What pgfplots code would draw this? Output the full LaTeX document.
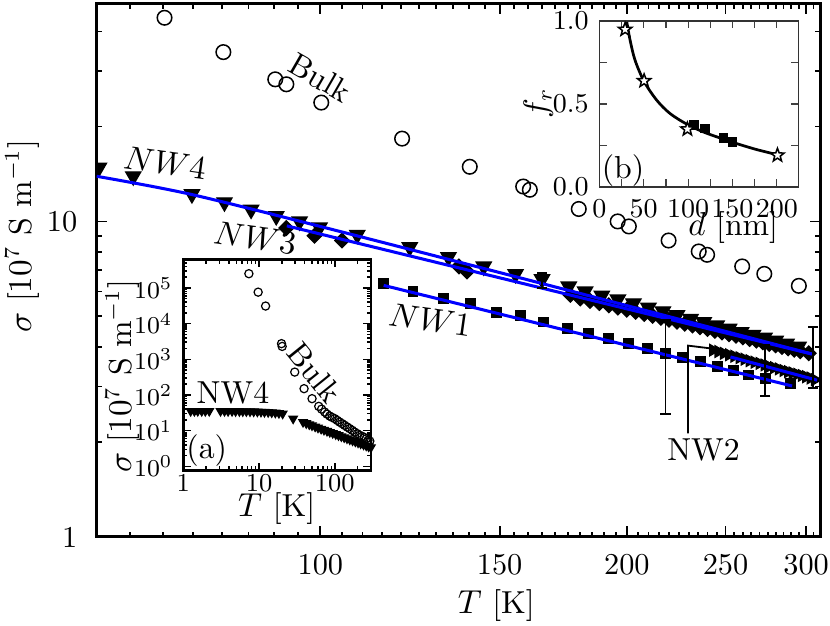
\documentclass[border=0pt]{standalone}
\usepackage{pgfplots}
\pgfplotsset{compat=1.18}
\pgfdeclareplotmark{fstar}{%
  \pgfpathmoveto{\pgfpointpolar{90}{\pgfplotmarksize}}%
  \pgfpathlineto{\pgfpointpolar{126}{0.42\pgfplotmarksize}}%
  \pgfpathlineto{\pgfpointpolar{162}{\pgfplotmarksize}}%
  \pgfpathlineto{\pgfpointpolar{198}{0.42\pgfplotmarksize}}%
  \pgfpathlineto{\pgfpointpolar{234}{\pgfplotmarksize}}%
  \pgfpathlineto{\pgfpointpolar{270}{0.42\pgfplotmarksize}}%
  \pgfpathlineto{\pgfpointpolar{306}{\pgfplotmarksize}}%
  \pgfpathlineto{\pgfpointpolar{342}{0.42\pgfplotmarksize}}%
  \pgfpathlineto{\pgfpointpolar{18}{\pgfplotmarksize}}%
  \pgfpathlineto{\pgfpointpolar{54}{0.42\pgfplotmarksize}}%
  \pgfpathclose
  \pgfusepathqfillstroke
}
\begin{document}
\begin{tikzpicture}
\begin{axis}[
  name=main, at={(0pt,0pt)}, anchor=south west,
  scale only axis, width=238.9pt, height=176pt,
  xmode=log, ymode=log,
  xmin=60.3, xmax=310, ymin=1, ymax=49,
  xtick={100,150,200,250,300}, xticklabels={100,150,200,250,300},
  minor xtick={65,70,75,80,85,90,95,105,110,115,120,125,130,135,140,145,155,160,165,170,175,180,185,190,195,205,210,215,220,225,230,235,240,245,255,260,265,270,275,280,285,290,295,305},
  ytick={1,10}, yticklabels={1,10},
  minor ytick={2,3,4,5,6,7,8,9,20,30,40},
  tick align=inside, major tick length=3.5pt, minor tick length=1.8pt,
  tick style={black, line width=0.6pt},
  axis line style={line width=1pt},
  tick label style={font=\fontsize{10}{12}\selectfont},
  xticklabel style={yshift=-2.2pt}, yticklabel style={xshift=-2.9pt},
  xlabel={$T$ [K]}, ylabel={$\sigma$ [$10^7$ S m$^{-1}$]},
  label style={font=\fontsize{10.5}{12.6}\selectfont},
  xlabel style={at={(axis description cs:0.552,-0.128)}, anchor=center},
  ylabel style={at={(axis description cs:-0.103,0.564)}, anchor=center},
  clip marker paths=true,
]
% Bulk
\addplot[only marks, mark=o, mark size=2.4pt, mark options={black, line width=0.5pt}] coordinates {
(70.3,44.2) (80.3,34.4) (90.3,28.2) (92.6,27.2) (100.2,23.8) (120.3,18.3) (140.2,14.9) (158.2,12.9) (160.6,12.6) (179.4,10.95) (195.9,10.0) (200.9,9.64) (219.8,8.7) (235.3,8.03) (239.8,7.84) (259.6,7.2) (272.9,6.82) (295.1,6.25)};
% NW4
\addplot[only marks, mark=triangle*, mark size=2.9pt, mark options={black, fill=black, rotate=180}] coordinates {
(60.6,14.8) (65.5,13.9) (74.8,12.2) (80.5,11.5) (85.5,10.9) (90.5,10.4) (95.4,10.0) (99.8,9.57) (108.7,9.07) (122.4,8.29) (133.6,7.71) (144.7,7.20) (155.5,6.81) (165.1,6.56) (175.4,6.22) (182,6.00) (189,5.82) (196,5.66) (203,5.50) (210,5.33) (217,5.19) (224,5.05) (231,4.91) (238,4.80) (245,4.68) (252,4.57) (259,4.46) (266,4.37) (273,4.28) (280,4.19) (287,4.10) (294.9,4.01)};
% NW3
\addplot[only marks, mark=square*, mark size=1.7pt, mark options={black, fill=black, rotate=45}] coordinates {
(92.6,9.53) (98.7,9.01) (105.0,8.70) (136.8,7.20) (139.3,6.94) (176,5.85) (180,5.70) (184,5.60) (188,5.51) (192,5.42) (196,5.33) (200,5.25) (204,5.17) (208,5.09) (212,5.02) (216,4.95) (220,4.88) (224,4.81) (228,4.74) (232,4.68) (236,4.62) (240,4.56) (244,4.50) (248,4.45) (252,4.39) (256,4.34) (260,4.29) (264,4.24) (268,4.19) (272,4.14) (276,4.09) (280,4.05) (284,4.00) (288,3.96) (292,3.92) (296,3.88) (301.8,3.82)};
% NW1
\addplot[only marks, mark=square*, mark size=1.6pt, mark options={black, fill=black}] coordinates {
(115.4,6.34) (123.3,6.00) (132.0,5.71) (140.4,5.48) (148.9,5.16) (157.4,5.02) (165.7,4.80) (174.7,4.59) (183.5,4.42) (191.9,4.26) (200.9,4.11) (209.4,3.96) (218.3,3.82) (226.6,3.71) (236.3,3.59) (245.3,3.48) (254.7,3.37) (263.5,3.26) (273.5,3.18) (289.5,3.07)};
% NW2
\addplot[only marks, mark=triangle*, mark size=2.2pt, mark options={black, fill=black, rotate=-90}] coordinates {
(243,3.91) (246,3.87) (249,3.82) (252,3.78) (255,3.74) (258,3.70) (261,3.66) (264,3.62) (267,3.58) (270,3.55) (273,3.51) (276,3.47) (279,3.44) (282,3.41) (285,3.37) (288,3.34) (291,3.31) (294,3.28) (297,3.25) (300,3.22) (303,3.19) (306,3.15)};
% fits
\addplot[blue, line width=1pt, no marks, smooth] coordinates {(60.3,13.9) (74.5,12.2) (102.3,9.46) (173.4,6.1) (304,3.80)};
\addplot[blue, line width=1pt, no marks] coordinates {(92.7,9.68) (304,3.80)};
\addplot[blue, line width=1pt, no marks] coordinates {(115.4,6.27) (290.6,3.01)};
\addplot[blue, line width=1pt, no marks] coordinates {(252.8,3.72) (307.5,3.14)};
% error bars
\addplot[black, line width=0.6pt, mark=-, mark size=1.7pt] coordinates {(165.1,6.15) (165.1,6.88)};
\addplot[black, line width=0.6pt, mark=-, mark size=1.7pt] coordinates {(218.3,2.46) (218.3,4.88)};
\addplot[black, line width=0.6pt, mark=-, mark size=1.7pt] coordinates {(273.5,2.80) (273.5,4.06)};
\addplot[black, line width=0.6pt, mark=-, mark size=1.7pt] coordinates {(304.5,2.96) (304.5,4.64)};
% annotations
\draw[line width=0.6pt] (axis cs:229.7,2.13) -- (axis cs:229.7,4.04) -- (axis cs:243.2,3.95);
\node[font=\fontsize{10.5}{12.6}\selectfont, rotate=-30] at (axis cs:100,28.5) {Bulk};
\node[font=\fontsize{10.5}{12.6}\selectfont, rotate=-8] at (axis cs:70.4,15.3) {$NW4$};
\node[font=\fontsize{10.5}{12.6}\selectfont, rotate=-8] at (axis cs:86.3,8.86) {$NW3$};
\node[font=\fontsize{10.5}{12.6}\selectfont, rotate=-8] at (axis cs:128.2,4.88) {$NW1$};
\node[font=\fontsize{10.5}{12.6}\selectfont] at (axis cs:237.9,1.88) {NW2};
\end{axis}

% inset (a)
\begin{axis}[
  at={(28.6pt,22pt)}, anchor=south west,
  scale only axis, width=61.9pt, height=69.5pt,
  xmode=log, ymode=log,
  xmin=1, xmax=300, ymin=0.773, ymax=6.17e5,
  axis background/.style={fill=white},
  xtick={1,10,100}, xticklabels={1,10,100},
  minor xtick={2,3,4,5,6,7,8,9,20,30,40,50,60,70,80,90,200,300},
  ytick={1,1e1,1e2,1e3,1e4,1e5},
  yticklabels={$10^{0}$,$10^{1}$,$10^{2}$,$10^{3}$,$10^{4}$,$10^{5}$},
  minor ytick={2,3,4,5,6,7,8,9,20,30,40,50,60,70,80,90,200,300,400,500,600,700,800,900,2e3,3e3,4e3,5e3,6e3,7e3,8e3,9e3,2e4,3e4,4e4,5e4,6e4,7e4,8e4,9e4,2e5,3e5,4e5,5e5,6e5},
  tick align=inside, major tick length=2.5pt, minor tick length=1.3pt,
  tick style={black, line width=0.5pt},
  axis line style={line width=0.8pt},
  tick label style={font=\fontsize{8.5}{10}\selectfont},
  xticklabel style={yshift=2.3pt},
  xlabel={$T$ [K]}, ylabel={$\sigma$ [$10^7$ S m$^{-1}$]},
  label style={font=\fontsize{10.5}{12.6}\selectfont},
  xlabel style={at={(axis description cs:0.498,-0.18)}, anchor=center},
  ylabel style={at={(axis description cs:-0.325,0.446)}, anchor=center},
]
\addplot[only marks, mark=o, mark size=1.35pt, mark options={black, line width=0.4pt}] coordinates {
(7.34,2.5e5) (9.73,7.6e4) (12.2,3.1e4) (19.8,2740) (20.2,2290) (29.6,437) (39.3,150) (50.1,78.7) (61.4,47.9) (67,40) (73.6,33.2) (79,29) (85.7,25.6) (92,23.5) (99.8,21.7) (108,19.3) (116,17.4) (125,15.7) (135,14.1) (146,12.6) (157,11.4) (170,10.2) (183,9.1) (198,8.2) (213,7.4) (230,6.9) (248,6.4) (260,5.9) (274,5.3) (290,5.1)};
\addplot[only marks, mark=triangle*, mark size=1.6pt, mark options={black, fill=black, rotate=180}] coordinates {
(1.25,35.4) (1.4,35.4) (1.55,35.4) (1.75,35.4) (1.95,35.4) (2.2,35.4)
(3.1,35.4) (3.5,35.4) (3.9,35.2) (4.4,35.2) (4.9,35.0) (5.5,35.0) (6.1,34.8) (6.8,34.8) (7.6,34.5) (8.5,34.3) (9.5,34.0) (10.6,33.7) (11.8,33.3) (13.2,33.0) (14.7,32.4) (16.4,31.8) (18.3,31.0) (20.5,29.9) (28.2,21.7)
(38.1,17.4) (42,16.1) (46,15.0) (50,14.0) (55,13.0) (60,12.1) (66,11.25) (72,10.5) (79,9.76) (86,9.13) (94,8.51) (103,7.92) (112,7.41) (122,6.92) (133,6.47) (145,6.04) (158,5.64) (172,5.28) (187,4.94) (203,4.63) (220,4.35) (240,4.06) (260,3.81) (280,3.59) (300,3.40)};
\node[font=\fontsize{10.5}{12.6}\selectfont] at (axis cs:4.52,111) {NW4};
\node[font=\fontsize{10.5}{12.6}\selectfont, rotate=-51] at (axis cs:54.3,421) {Bulk};
\node[font=\fontsize{10.5}{12.6}\selectfont] at (axis description cs:0.125,0.095) {(a)};
\end{axis}

% inset (b)
\begin{axis}[
  at={(165.9pt,115.5pt)}, anchor=south west,
  scale only axis, width=65.7pt, height=54.8pt,
  xmin=0, xmax=224.4, ymin=0, ymax=1,
  axis background/.style={fill=white},
  xtick={0,50,100,150,200}, minor xtick={25,75,125,175},
  ytick={0,0.5,1}, yticklabels={0.0,0.5,1.0}, minor ytick={0.25,0.75},
  tick align=inside, major tick length=2.5pt, minor tick length=2.5pt,
  tick style={black!75, line width=0.4pt},
  axis line style={black!80, line width=0.5pt},
  tick label style={font=\fontsize{9}{10}\selectfont},
  xticklabel style={yshift=-0.7pt},
  xlabel={$d$ [nm]}, ylabel={$f_r$},
  label style={font=\fontsize{10.5}{12.6}\selectfont},
  xlabel style={at={(axis description cs:0.672,-0.243)}, anchor=center},
  ylabel style={at={(axis description cs:-0.307,0.504)}, anchor=center},
]
\addplot[black, line width=0.9pt, smooth, no marks] coordinates {
(30.9,0.994) (34.6,0.884) (40.2,0.763) (50.4,0.635) (64.7,0.522) (79.7,0.442) (98.5,0.378) (117.3,0.331) (136,0.295) (154.9,0.261) (177.4,0.225) (200,0.195)};
\addplot[only marks, mark=square*, mark size=1.4pt, mark options={black, fill=black}] coordinates {
(106.8,0.372) (119.2,0.352) (139.8,0.295) (150,0.271)};
\addplot[only marks, mark=fstar, mark size=2.3pt, mark options={draw=black, fill=white, line width=0.5pt}] coordinates {
(29,0.948) (50.4,0.639) (99.2,0.348) (200.7,0.191)};
\node[font=\fontsize{10.5}{12.6}\selectfont] at (axis description cs:0.119,0.10) {(b)};
\end{axis}

\pgfresetboundingbox
\path (-31.9pt,-29.1pt) rectangle (242pt,177.2pt);
\end{tikzpicture}
\end{document}
